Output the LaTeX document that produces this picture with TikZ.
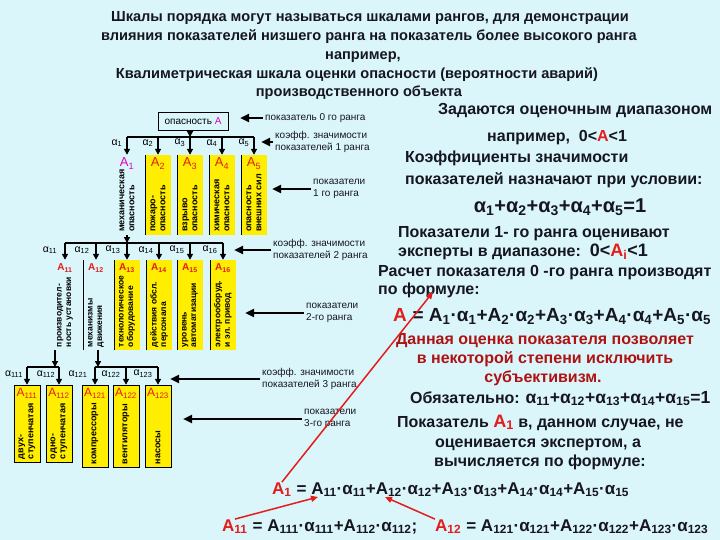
\documentclass[tikz,border=0pt]{standalone}
\usepackage{fontspec}
\setmainfont{Liberation Sans}
\usetikzlibrary{arrows.meta}
\definecolor{bgcyan}{RGB}{218,246,250}
\definecolor{colyel}{RGB}{255,238,0}
\definecolor{ared}{RGB}{228,28,28}
\definecolor{dred}{RGB}{175,18,18}
\definecolor{amag}{RGB}{225,0,190}
\definecolor{ink}{RGB}{22,22,32}
\newcommand{\al}[1]{α\textsubscript{#1}}
\newcommand{\Ai}[1]{A\textsubscript{#1}}
\begin{document}
\begin{tikzpicture}[x=1pt,y=-1pt,
  ttl/.style={font=\fontsize{14.6}{17}\selectfont\bfseries,text=ink,inner sep=0pt,anchor=base},
  txt/.style={font=\fontsize{16}{19}\selectfont\bfseries,text=ink,inner sep=0pt,anchor=base west},
  frm/.style={font=\fontsize{19}{22}\selectfont\bfseries,text=ink,inner sep=0pt,anchor=base west},
  sfrm/.style={frm,font=\fontsize{17}{20}\selectfont\bfseries},
  note/.style={font=\fontsize{10}{12.5}\selectfont,text=ink,align=left,inner sep=2pt,anchor=west},
  col/.style={minimum width=25pt,inner sep=0pt},
  yel/.style={fill=colyel},
  lab/.style={font=\fontsize{13}{13}\selectfont,text=ared,inner sep=0pt,anchor=north},
  lab2/.style={lab,font=\fontsize{10}{10}\selectfont\bfseries},
  vtxt/.style={font=\fontsize{9}{10}\selectfont\bfseries,align=left,rotate=90,anchor=west,inner sep=0pt},
  vtxt2/.style={vtxt,font=\fontsize{8.5}{9.5}\selectfont\bfseries},
  alf/.style={font=\fontsize{10.5}{10}\selectfont,inner sep=0pt},
  arr/.style={line width=2pt,-{Triangle[length=6pt,width=6pt]}},
  bigarr/.style={line width=2.8pt,-{Triangle[length=9pt,width=8pt]}},
  redarr/.style={ared,line width=1.5pt,-{Triangle[length=7pt,width=6pt]}},
  bar/.style={line width=2pt}]
\useasboundingbox (0,0) rectangle (720,540);
\fill[bgcyan] (0,0) rectangle (720,540);

% title
\node[ttl] (t1) at (370,22) {Шкалы порядка могут называться шкалами рангов, для демонстрации};
\node[ttl] (t2) at (369,41) {влияния показателей низшего ранга на показатель более высокого ранга};
\node[ttl] (t3) at (363,60) {например,};
\node[ttl] (t4) at (357,79) {Квалиметрическая шкала оценки опасности (вероятности аварий)};
\node[ttl] (t5) at (359,97) {производственного объекта};

% rank 0
\node[draw,font=\fontsize{10}{10}\selectfont,minimum width=70pt,minimum height=18pt,inner sep=0pt] (oA) at (193,121) {опасность \textcolor{amag}{A}};

% rank 1
\node[col,minimum height=80pt] (A1) at (127,195) {};
\node[col,yel,minimum height=80pt] (A2) at (158,195) {};
\node[col,yel,minimum height=80pt] (A3) at (190,195) {};
\node[col,yel,minimum height=80pt] (A4) at (222,195) {};
\node[col,yel,minimum height=80pt] (A5) at (254,195) {};
\draw (A2.north west) -- (A2.south west);
\draw (A3.north west) -- (A3.south west);
\draw (A4.north west) -- (A4.south west);
\draw (A5.north west) -- (A5.south west);
\node[lab,text=amag] (A1l) at ([yshift=-3pt]A1.north) {\Ai{1}};
\node[lab] (A2l) at ([yshift=-3pt]A2.north) {\Ai{2}};
\node[lab] (A3l) at ([yshift=-3pt]A3.north) {\Ai{3}};
\node[lab] (A4l) at ([yshift=-3pt]A4.north) {\Ai{4}};
\node[lab] (A5l) at ([yshift=-3pt]A5.north) {\Ai{5}};
\node[vtxt] (A1t) at ([yshift=3pt]A1.south) {механическая\\опасность};
\node[vtxt] (A2t) at ([yshift=3pt]A2.south) {пожаро-\\опасность};
\node[vtxt] (A3t) at ([yshift=3pt]A3.south) {взрыво\\опасность};
\node[vtxt] (A4t) at ([yshift=3pt]A4.south) {химическая\\опасность};
\node[vtxt] (A5t) at ([yshift=3pt]A5.south) {опасность\\внешних сил};

\coordinate (b1) at (190,137);
\draw[arr] (oA.south -| b1) -- (b1);
\draw[bar] (A1.north |- b1) -- (A5.north |- b1);
\draw[arr] (A1.north |- b1) -- (A1.north);
\draw[arr] (A2.north |- b1) -- (A2.north);
\draw[arr] (A3.north |- b1) -- (A3.north);
\draw[arr] (A4.north |- b1) -- (A4.north);
\draw[arr] (A5.north |- b1) -- (A5.north);
\node[alf] (a1) at (117,143) {\al{1}};
\node[alf] (a2) at (148,143) {\al{2}};
\node[alf] (a3) at (180,143) {\al{3}};
\node[alf] (a4) at (212,143) {\al{4}};
\node[alf] (a5) at (244,143) {\al{5}};

% rank 2
\node[col,minimum height=90pt] (A11) at (65,305) {};
\node[col,minimum height=90pt] (A12) at (96,305) {};
\node[col,yel,minimum height=90pt] (A13) at (127,305) {};
\node[col,yel,minimum height=90pt] (A14) at (159,305) {};
\node[col,yel,minimum height=90pt] (A15) at (190,305) {};
\node[col,yel,minimum height=90pt] (A16) at (223,305) {};
\draw (A12.north west) -- (A12.south west);
\draw (A13.north west) -- (A13.south west);
\draw (A14.north west) -- (A14.south west);
\draw (A15.north west) -- (A15.south west);
\draw (A16.north west) -- (A16.south west);
\node[lab2] (A11l) at ([yshift=-4pt]A11.north) {\Ai{11}};
\node[lab2] (A12l) at ([yshift=-4pt]A12.north) {\Ai{12}};
\node[lab2] (A13l) at ([yshift=-4pt]A13.north) {\Ai{13}};
\node[lab2] (A14l) at ([yshift=-4pt]A14.north) {\Ai{14}};
\node[lab2] (A15l) at ([yshift=-4pt]A15.north) {\Ai{15}};
\node[lab2] (A16l) at ([yshift=-4pt]A16.north) {\Ai{16}};
\node[vtxt2] (A11t) at ([yshift=3pt]A11.south) {производител-\\ность установки};
\node[vtxt2] (A12t) at ([yshift=3pt]A12.south) {механизмы\\движения};
\node[vtxt2] (A13t) at ([yshift=3pt]A13.south) {технологическое\\оборудование};
\node[vtxt2] (A14t) at ([yshift=3pt]A14.south) {действия обсл.\\персонала};
\node[vtxt2] (A15t) at ([yshift=3pt]A15.south) {уровень\\автоматизации};
\node[vtxt2] (A16t) at ([yshift=3pt]A16.south) {электрооборуд.\\и эл. привод};

\coordinate (b2) at (127,243);
\draw[arr] (A1.south -| b2) -- (b2);
\draw[bar] (A11.north |- b2) -- (A16.north |- b2);
\draw[arr] (A11.north |- b2) -- (A11.north);
\draw[arr] (A12.north |- b2) -- (A12.north);
\draw[arr] (A13.north |- b2) -- (A13.north);
\draw[arr] (A14.north |- b2) -- (A14.north);
\draw[arr] (A15.north |- b2) -- (A15.north);
\draw[arr] (A16.north |- b2) -- (A16.north);
\node[alf] (a11) at (50,250) {\al{11}};
\node[alf] (a12) at (82,250) {\al{12}};
\node[alf] (a13) at (113,250) {\al{13}};
\node[alf] (a14) at (146,250) {\al{14}};
\node[alf] (a15) at (177,250) {\al{15}};
\node[alf] (a16) at (210,250) {\al{16}};

% rank 3
\node[col,yel,draw,minimum width=26pt,minimum height=77pt] (A111) at (27,423.5) {};
\node[col,yel,draw,minimum width=26pt,minimum height=77pt] (A112) at (59,423.5) {};
\node[col,yel,draw,minimum width=26pt,minimum height=82pt] (A121) at (95,426) {};
\node[col,yel,draw,minimum width=26pt,minimum height=82pt] (A122) at (126,426) {};
\node[col,yel,draw,minimum width=26pt,minimum height=82pt] (A123) at (158,426) {};
\node[lab,font=\fontsize{12}{12}\selectfont] (A111l) at ([yshift=-3pt]A111.north) {\Ai{111}};
\node[lab,font=\fontsize{12}{12}\selectfont] (A112l) at ([yshift=-3pt]A112.north) {\Ai{112}};
\node[lab,font=\fontsize{12}{12}\selectfont] (A121l) at ([yshift=-3pt]A121.north) {\Ai{121}};
\node[lab,font=\fontsize{12}{12}\selectfont] (A122l) at ([yshift=-3pt]A122.north) {\Ai{122}};
\node[lab,font=\fontsize{12}{12}\selectfont] (A123l) at ([yshift=-3pt]A123.north) {\Ai{123}};
\node[vtxt] (A111t) at ([yshift=3pt]A111.south) {двух-\\ступенчатая};
\node[vtxt] (A112t) at ([yshift=3pt]A112.south) {одно-\\ступенчатая};
\node[vtxt] (A121t) at ([yshift=3pt]A121.south) {компрессоры};
\node[vtxt] (A122t) at ([yshift=3pt]A122.south) {вентиляторы};
\node[vtxt] (A123t) at ([yshift=3pt]A123.south) {насосы};

\coordinate (b11) at (55,367);
\draw[arr] (A11.south -| b11) -- (b11);
\draw[bar] (A111.north |- b11) -- (A112.north |- b11);
\draw[arr] (A111.north |- b11) -- (A111.north);
\draw[arr] (A112.north |- b11) -- (A112.north);
\coordinate (b12) at (98,367);
\draw[arr] (A12.south -| b12) -- (b12);
\draw[bar] (A121.north |- b12) -- (A123.north |- b12);
\draw[arr] (A121.north |- b12) -- (A121.north);
\draw[arr] (A122.north |- b12) -- (A122.north);
\draw[arr] (A123.north |- b12) -- (A123.north);
\node[alf] (a111) at (14,374) {\al{111}};
\node[alf] (a112) at (46,374) {\al{112}};
\node[alf] (a121) at (78,374) {\al{121}};
\node[alf] (a122) at (111,374) {\al{122}};
\node[alf] (a123) at (143,374) {\al{123}};

% notes with arrows
\node[note] (n0) at (263,118) {показатель 0 го ранга};
\node[note] (n1k) at (273,142) {коэфф. значимости\\показателей 1 ранга};
\node[note] (n1) at (311,189) {показатели\\1 го ранга};
\node[note] (n2k) at (271,250) {коэфф. значимости\\показателей 2 ранга};
\node[note] (n2) at (304,313) {показатели\\2-го ранга};
\node[note] (n3k) at (260,379) {коэфф. значимости\\показателей 3 ранга};
\node[note] (n3) at (302,419) {показатели\\3-го ранга};
\coordinate (c0) at (240,118);
\coordinate (c1k) at (261,142);
\coordinate (c1) at (272,189);
\coordinate (c2k) at (234,250);
\coordinate (c2) at (245,313);
\coordinate (c3k) at (170,379);
\coordinate (c3) at (183,419);
\draw[bigarr] (n0.west) -- (c0);
\draw[bigarr] (n1k.west) -- (c1k);
\draw[bigarr] (n1.west) -- (c1);
\draw[bigarr] (n2k.west) -- (c2k);
\draw[bigarr] (n2.west) -- (c2);
\draw[bigarr] (n3k.west) -- (c3k);
\draw[bigarr] (n3.west) -- (c3);

% right column text
\node[txt] (r1) at (438,115) {Задаются оценочным диапазоном};
\node[txt] (r2) at (487,142) {например,\ \ 0<\textcolor{ared}{A}<1};
\node[txt] (r3) at (405,163) {Коэффициенты значимости};
\node[txt] (r4) at (405,185) {показателей назначают при условии:};
\node[frm,anchor=base,font=\fontsize{20}{22}\selectfont\bfseries] (r5) at (560,212) {\al{1}+\al{2}+\al{3}+\al{4}+\al{5}=1};
\node[txt] (r6) at (398,237) {Показатели 1- го ранга оценивают};
\node[txt] (r7) at (398,256) {эксперты в диапазоне:\ \ {\fontsize{18}{19}\selectfont 0<\textcolor{ared}{A\textsubscript{i}}<1}};
\node[txt] (r8) at (378,276) {Расчет показателя 0 -го ранга производят};
\node[txt] (r9) at (378,294) {по формуле:};
\node[frm,text=ared] (fAh) at (393,321) {A};
\node[frm] (fAb) at (fAh.base east) {\ = \Ai{1}·\al{1}+\Ai{2}·\al{2}+\Ai{3}·\al{3}+\Ai{4}·\al{4}+\Ai{5}·\al{5}};
\node[txt,text=dred,anchor=base] (d1) at (545,344) {Данная оценка показателя позволяет};
\node[txt,text=dred,anchor=base] (d2) at (545,363) {в некоторой степени исключить};
\node[txt,text=dred,anchor=base] (d3) at (543,382) {субъективизм.};
\node[txt] (r10) at (410,403) {Обязательно: {\fontsize{17.5}{19}\selectfont\al{11}+\al{12}+\al{13}+\al{14}+\al{15}=1}};
\node[txt] (r11) at (397,427) {Показатель {\fontsize{18}{19}\selectfont\textcolor{ared}{\Ai{1}}} в, данном случае, не};
\node[txt,anchor=base] (r12) at (538,447) {оценивается экспертом, а};
\node[txt,anchor=base] (r13) at (540,466) {вычисляется по формуле:};
\node[sfrm,text=ared] (fA1h) at (272,494) {\Ai{1}};
\node[sfrm] (fA1b) at (fA1h.base east) {\ = \Ai{11}·\al{11}+\Ai{12}·\al{12}+\Ai{13}·\al{13}+\Ai{14}·\al{14}+\Ai{15}·\al{15}};
\node[sfrm,text=ared] (fA11h) at (222,531) {\Ai{11}};
\node[sfrm] (fA11b) at (fA11h.base east) {\ = \Ai{111}·\al{111}+\Ai{112}·\al{112};};
\node[sfrm,text=ared] (fA12h) at (435,531) {\Ai{12}};
\node[sfrm] (fA12b) at (fA12h.base east) {\ = \Ai{121}·\al{121}+\Ai{122}·\al{122}+\Ai{123}·\al{123}};

% red pointers
\coordinate (tA1) at (433,292);
\coordinate (tA11) at (318,497);
\coordinate (tA12) at (385,497);
\draw[redarr] (fA1h.north) -- (tA1);
\draw[redarr] (fA11h.north) -- (tA11);
\draw[redarr] (fA12h.north west) -- (tA12);
\end{tikzpicture}
\end{document}
